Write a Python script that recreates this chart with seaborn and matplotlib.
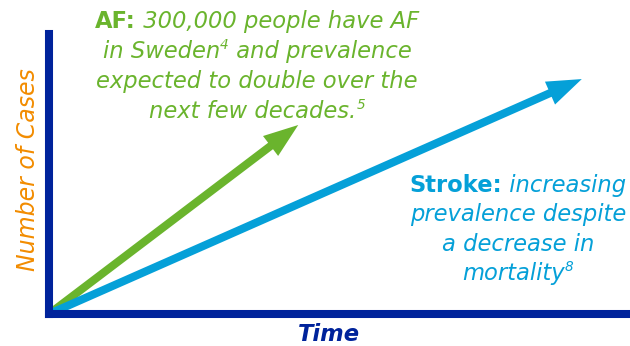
import matplotlib
matplotlib.use("Agg")
import matplotlib.pyplot as plt
import seaborn as sns

sns.set_theme(style="white")
plt.rcParams["font.family"] = ["DejaVu Sans"]

# Series: start and end points of each trend (time, number of cases)
series = ["AF", "Stroke"]
time_start = [0, 0]
time_end = [42.9, 91.7]
cases_start = [0, 0]
cases_end = [67.5, 83.9]

NAVY = "#00239b"
GREEN = "#6ab42d"
BLUE = "#05a0d8"
ORANGE = "#f28c00"
colors = [GREEN, BLUE]

W, H = 630, 346
fig = plt.figure(figsize=(W / 100, H / 100), dpi=100)
ax = fig.add_axes([49 / W, 32 / H, (W - 49) / W, (314 - 34) / H])
ax.set_xlim(0, 100)
ax.set_ylim(0, 100)
ax.set_xticks([])
ax.set_yticks([])

sns.despine(ax=ax)
for side in ["left", "bottom"]:
    sp = ax.spines[side]
    sp.set_color(NAVY)
    sp.set_linewidth(5.8)
    sp.set_capstyle("projecting")
    sp.set_zorder(5)

for i, name in enumerate(series):
    ax.annotate(
        "", xy=(time_end[i], cases_end[i]), xytext=(time_start[i], cases_start[i]),
        arrowprops=dict(arrowstyle="simple,head_length=1.25,head_width=0.9,tail_width=0.29",
                        mutation_scale=20, color=colors[i], shrinkA=0, shrinkB=0, lw=0),
        annotation_clip=False, zorder=3)


def px(x, y):
    return x / W, 1 - y / H


renderer = fig.canvas.get_renderer()
FS = 16.3


def text_line(cx, baseline, segments, color, size=FS):
    # segments: (text, weight, style, rel size, raise)
    objs = []
    for s, weight, style, rel, rise in segments:
        t = fig.text(0, 0, s, color=color, fontsize=size * rel, fontweight=weight,
                     fontstyle=style, va="baseline", ha="left")
        objs.append((t, rise))
    widths = [t.get_window_extent(renderer).width for t, _ in objs]
    x = cx - sum(widths) / 2
    for (t, rise), w in zip(objs, widths):
        t.set_position(px(x, baseline - rise))
        x += w


sup = 0.6
green_lines = [
    [("AF:", "bold", "normal", 1, 0), (" 300,000 people have AF", "normal", "italic", 1, 0)],
    [("in Sweden", "normal", "italic", 1, 0), ("4", "normal", "italic", sup, 9),
     (" and prevalence", "normal", "italic", 1, 0)],
    [("expected to double over the", "normal", "italic", 1, 0)],
    [("next few decades.", "normal", "italic", 1, 0), ("5", "normal", "italic", sup, 9)],
]
for k, segs in enumerate(green_lines):
    text_line(257, 28 + 30 * k, segs, GREEN)

blue_lines = [
    [("Stroke:", "bold", "normal", 1, 0), (" increasing", "normal", "italic", 1, 0)],
    [("prevalence despite", "normal", "italic", 1, 0)],
    [("a decrease in", "normal", "italic", 1, 0)],
    [("mortality", "normal", "italic", 1, 0), ("8", "normal", "italic", sup, 9)],
]
for k, segs in enumerate(blue_lines):
    text_line(518, 192 + 29.3 * k, segs, BLUE)

fig.text(*px(28, 170), "Number of Cases", color=ORANGE, fontsize=17, fontstyle="italic",
         rotation=90, ha="center", va="center")
fig.text(*px(329, 341), "Time", color=NAVY, fontsize=FS, fontstyle="italic",
         fontweight="bold", ha="center", va="baseline")

fig.savefig("out.png", dpi=100)
